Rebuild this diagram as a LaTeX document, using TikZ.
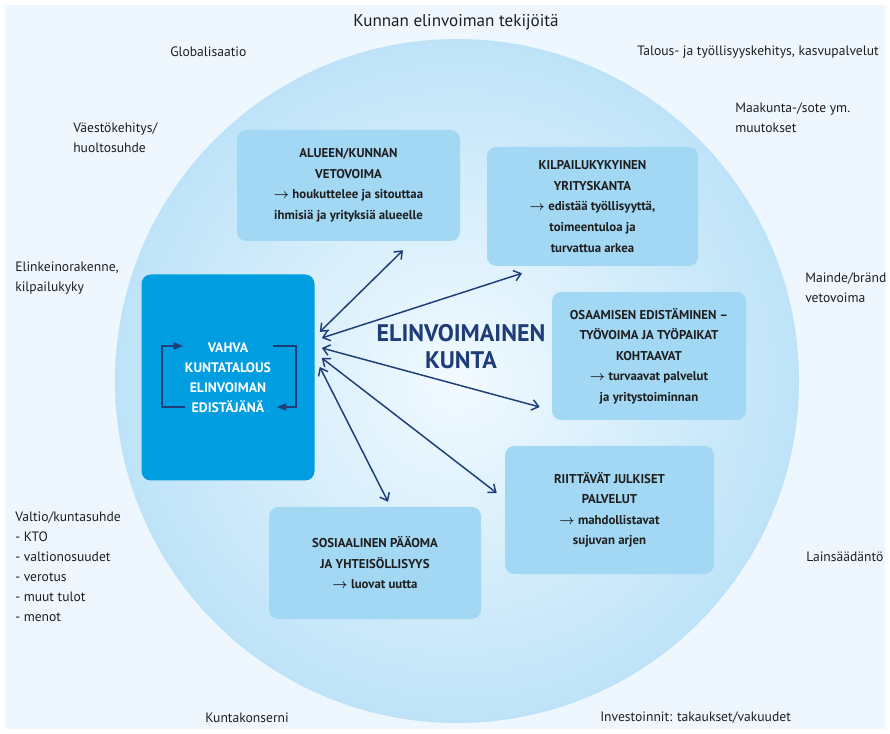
\documentclass[tikz,border=0pt]{standalone}
\usepackage{fontspec}
\setmainfont{PT Sans}
\usetikzlibrary{arrows.meta}
\definecolor{panelbg}{RGB}{238,247,253}
\definecolor{ringblue}{RGB}{190,227,248}
\definecolor{ringcore}{RGB}{242,250,255}
\definecolor{boxblue}{RGB}{163,216,245}
\definecolor{corebox}{RGB}{0,158,224}
\definecolor{navy}{RGB}{30,61,120}
\definecolor{inktext}{RGB}{30,30,30}
\newcommand{\leadsarrow}{{\boldmath$\rightarrow$}}

\tikzset{
  factor/.style={anchor=west, inner sep=0pt, align=left, text=inktext,
    font=\fontsize{10.2}{15}\selectfont},
  themebox/.style={fill=boxblue, rounded corners=7pt, align=center, inner sep=0pt,
    text=inktext, font=\bfseries\fontsize{9.6}{15.4}\selectfont},
  strongbox/.style={fill=corebox, rounded corners=7pt, align=center, inner sep=0pt,
    text=white, font=\bfseries\fontsize{10.3}{15}\selectfont},
  link/.style={draw=navy, line width=1.1pt,
    {Straight Barb[length=5pt,width=8pt]}-{Straight Barb[length=5pt,width=8pt]}},
  cycleline/.style={draw=navy, line width=1pt, -{Triangle[length=7pt,width=5.5pt]}},
}

\begin{document}
\begin{tikzpicture}[x=0.75pt,y=0.75pt,yscale=-1,xscale=1]
\useasboundingbox (0,0) rectangle (890,734);

%Shape: Rectangle
\fill[panelbg] (5,5) rectangle (885,729);
%Shape: Circle
\shade[inner color=ringcore, outer color=ringblue] (457,381) circle (342);

% Text Node
\node (title) at (456,22) [text=inktext, font=\fontsize{12.8}{14}\selectfont] {Kunnan elinvoiman tekijöitä};
% Text Node
\node[factor] (glob) at (170,52) {Globalisaatio};
% Text Node
\node[factor] (talous) at (637,52) {Talous- ja työllisyyskehitys, kasvupalvelut};
% Text Node
\node[factor] (maak) at (735,118) {Maakunta-/sote ym.\\muutokset};
% Text Node
\node[factor] (vaesto) at (73,138) {Väestökehitys/\\huoltosuhde};
% Text Node
\node[factor] (elink) at (15,278) {Elinkeinorakenne,\\kilpailukyky};
% Text Node
\node[factor] (maine) at (805,288) {Mainde/bränd\\vetovoima};
% Text Node
\node[factor] (laki) at (806,557) {Lainsäädäntö};
% Text Node
\node[factor] (valtio) at (15,567) {Valtio/kuntasuhde\\- KTO\\- valtionosuudet\\- verotus\\- muut tulot\\- menot};
% Text Node
\node[factor] (konserni) at (205,718) {Kuntakonserni};
% Text Node
\node[factor] (invest) at (600,718) {Investoinnit: takaukset/vakuudet};

%Shape: Rounded Rect
\node[themebox, minimum width=167.25pt, minimum height=83.25pt] (alue) at (348.5,185.5)
  {ALUEEN/KUNNAN\\VETOVOIMA\\\leadsarrow{} houkuttelee ja sitouttaa\\ihmisiä ja yrityksiä alueelle};
%Shape: Rounded Rect
\node[themebox, minimum width=158.25pt, minimum height=89.25pt] (kilpa) at (592.5,206.5)
  {KILPAILUKYKYINEN\\YRITYSKANTA\\\leadsarrow{} edistää työllisyyttä,\\toimeentuloa ja\\turvattua arkea};
%Shape: Rounded Rect
\node[themebox, minimum width=145.5pt, minimum height=96pt] (osaam) at (649,356)
  {OSAAMISEN EDISTÄMINEN –\\TYÖVOIMA JA TYÖPAIKAT\\KOHTAAVAT\\\leadsarrow{} turvaavat palvelut\\ja yritystoiminnan};
%Shape: Rounded Rect
\node[themebox, minimum width=156.75pt, minimum height=96pt] (riitt) at (609.5,510)
  {RIITTÄVÄT JULKISET\\PALVELUT\\\leadsarrow{} mahdollistavat\\sujuvan arjen};
%Shape: Rounded Rect
\node[themebox, minimum width=159pt, minimum height=84pt] (sosi) at (375,563)
  {SOSIAALINEN PÄÄOMA\\JA YHTEISÖLLISYYS\\\leadsarrow{} luovat uutta};
%Shape: Rounded Rect
\node[strongbox, minimum width=129.75pt, minimum height=154.5pt] (vahva) at (228,377.5)
  {VAHVA\\KUNTATALOUS\\ELINVOIMAN\\EDISTÄJÄNÄ};

%Straight Lines
\draw[cycleline] (185,407) -- (162,407) -- (162,346) -- (183,346);
\draw[cycleline] (273,346) -- (296,346) -- (296,407) -- (277,407);

% Text Node
\node (kunta) at (461,346.5) [text=navy, align=center, font=\bfseries\fontsize{18}{20}\selectfont] {ELINVOIMAINEN\\KUNTA};

%Straight Lines
\draw[link] ([shift={(5,-45.5)}]vahva.east) -- ([shift={(54.5,9)}]alue.south);
\draw[link] ([shift={(7,-39.5)}]vahva.east) -- ([shift={(-70.5,7)}]kilpa.south);
\draw[link] ([shift={(7,-29.5)}]vahva.east) -- ([shift={(-12,51)}]osaam.west);
\draw[link] ([shift={(7,-19.5)}]vahva.east) -- ([shift={(-8,-17)}]riitt.west);
\draw[link] ([shift={(5,-10.5)}]vahva.east) -- ([shift={(13,-5)}]sosi.north);

\end{tikzpicture}
\end{document}
